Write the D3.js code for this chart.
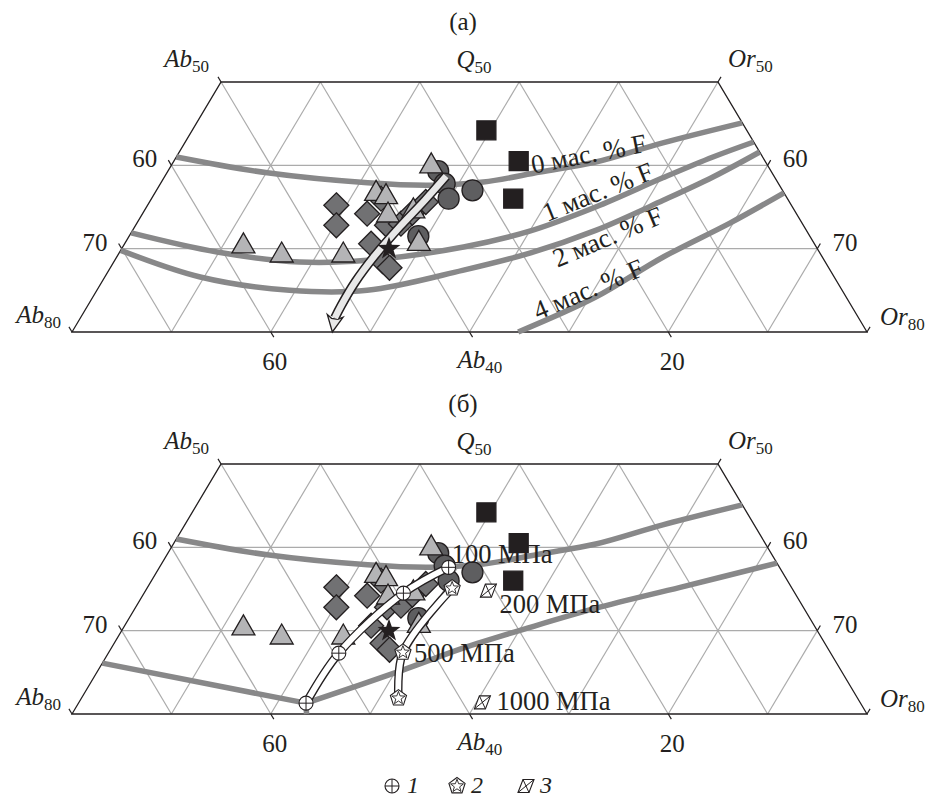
<!DOCTYPE html>
<html><head><meta charset="utf-8">
<script src="https://cdn.jsdelivr.net/npm/d3@7"></script>
<style>
body{margin:0;background:#fff}
svg{display:block}
text{font-family:"Liberation Serif","Times New Roman",serif;fill:#231f20}
</style>
</head><body>
<svg id="c" width="926" height="800"></svg>
<script>
// ---------- DATA (ternary Q, Ab, Or) ----------
const panelTitles = ["(а)", "(б)"];
const gridQ = [30, 40];
const gridOr = [10, 20, 30, 40, 50, 60, 70];
const gridAb = [10, 20, 30, 40, 50, 60, 70];
const leftTicks = [50, 60, 70, 80];      // Ab on left edge
const leftTickLabels = [60, 70];
const rightTicks = [50, 60, 70, 80];     // Or on right edge
const rightTickLabels = [60, 70];
const bottomTicks = [60, 40, 20];        // Ab on bottom edge (Q = 20)
const cornerLabels = [["Ab", "50"], ["Q", "50"], ["Or", "50"], ["Ab", "80"], ["Or", "80"]];

const triangles = [[30.7,57.4,11.9],[29.6,54.1,16.3],[29.6,47.9,22.5],[31.0,39.6,29.4],[40.3,33.7,26.0],
                   [37.0,40.9,22.1],[36.6,40.1,23.3],[34.4,41.0,24.6],[34.9,38.2,26.9]];
const diamonds = [[35.2,45.8,19.0],[32.8,47.0,20.2],[34.2,43.2,22.6],[30.6,44.6,24.8],[32.8,41.9,25.3],
                  [28.5,44.5,27.0],[27.7,44.2,28.1],[36.0,40.9,23.1],[33.0,40.4,26.6],[34.3,38.6,27.1],[35.6,36.6,27.8]];
const circles = [[39.3,33.5,27.2],[37.8,33.6,28.6],[36.0,34.1,29.9],[37.0,31.2,31.8],[31.5,39.4,29.1]];
const squares = [[44.2,26.2,29.6],[40.5,24.8,34.7],[36.0,27.6,36.4]];
const stars = [[30.0,43.1,26.9]];

const curveF0 = [[41.0,59.0,0],[39.1,50.8,10.1],[37.9,41.3,20.8],[37.6,35.2,27.2],[38.0,29.6,32.4],
                 [39.2,23.3,37.5],[40.4,17.1,42.5],[42.7,9.2,48.1],[45.1,0,54.9]];
const curveF1 = [[31.9,68.1,0],[29.6,60.6,9.8],[28.4,52.9,18.7],[28.6,46.0,25.4],[30.2,35.5,34.3],
                 [32.1,27.9,40.0],[35.0,19.8,45.2],[38.5,11.3,50.2],[41.0,5.0,54.0],[42.8,0,57.2]];
const curveF2 = [[29.8,70.2,0],[26.6,63.8,9.6],[25.0,55.6,19.4],[25.0,47.8,27.2],[27.4,37.0,35.6],
                 [29.5,29.1,41.4],[32.2,21.2,46.6],[35.8,12.6,51.6],[38.6,6.2,55.2],[41.6,0,58.4]];
const curveF4 = [[20.0,35.1,44.9],[24.2,25.2,50.6],[29.0,16.0,55.0],[33.1,7.2,59.7],[36.7,0,63.3]];
const fLabels = ["0 мас. % F", "1 мас. % F", "2 мас. % F", "4 мас. % F"];
const fLabelAnchors = [[39.0,24.1,36.9],[33.2,25.6,41.2],[27.7,27.3,45.0],[21.4,32.4,46.2]];
const fLabelAngles = [-11, -22, -23, -23];

const arrowA = [[38.7,33.0,28.3],[35.8,36.6,27.6],[32.7,40.6,26.7],[29.2,44.9,25.9],[26.0,48.5,25.5],
                [23.2,51.3,25.5],[21.7,52.7,25.6]];
const arrowTip = [20.0,53.8,26.2];

const cotB_left = [[26.1,73.9,0],[21.3,55.8,22.9]];
const cotB_stub = [[21.3,55.8,22.9],[20.0,56.4,23.6]];
const cotB_right = [[21.3,55.8,22.9],[25.3,44.0,30.7],[27.9,36.7,35.4],[30.4,28.7,40.9],
                    [32.7,20.9,46.4],[35.2,11.2,53.6],[38.1,0,61.9]];
const pathP1 = [[37.6,33.3,29.1],[34.5,39.4,26.1],[27.3,49.5,23.2],[21.3,55.8,22.9]]; // 100,200,500,1000 MPa
const pathP2 = [[35.1,34.2,30.7],[27.4,43.0,29.6],[21.9,46.2,31.9]];                 // 200,500,1000 MPa
const pointsP3 = [[34.8,30.7,34.5],[21.4,38.0,40.6]];                                // 200,1000 MPa
const pressureLabels = ["100 МПа", "200 МПа", "500 МПа", "1000 МПа"];
const legendLabels = ["1", "2", "3"];

// ---------- LAYOUT ----------
const svg = d3.select("#c");
const ink = "#231f20";
const x = d3.scaleLinear().domain([10, 90]).range([72, 867]);
const yQ = d3.scaleLinear().domain([20, 50]).range([332, 82]);
const panelDy = [0, 382];

function proj(p, dy) {
  const s = p[0] + p[1] + p[2];
  const q = p[0] * 100 / s, or = p[2] * 100 / s;
  return [x(or + q / 2), yQ(q) + dy];
}
const toPath = pts => "M" + pts.map(p => p[0].toFixed(2) + "," + p[1].toFixed(2)).join("L") + "Z";
function starPts(R, r, n) { const a = []; for (let i = 0; i < 2 * n; i++) { const t = -Math.PI / 2 + i * Math.PI / n; const rr = i % 2 ? r : R; a.push([rr * Math.cos(t), rr * Math.sin(t)]); } return a; }
function polyPts(R, n) { const a = []; for (let i = 0; i < n; i++) { const t = -Math.PI / 2 + i * 2 * Math.PI / n; a.push([R * Math.cos(t), R * Math.sin(t)]); } return a; }

const triPath = toPath([[0, -10], [11.5, 10], [-11.5, 10]]);
const diaPath = toPath([[0, -12.5], [12.5, 0], [0, 12.5], [-12.5, 0]]);
const sqPath = toPath([[-9.5, -9.5], [9.5, -9.5], [9.5, 9.5], [-9.5, 9.5]]);
const starPath = toPath(starPts(12, 4.8, 5));

function oplus(g, c) {
  const m = g.append("g").attr("transform", `translate(${c[0]},${c[1]})`);
  m.append("circle").attr("r", 7).attr("fill", "#fff").attr("stroke", ink).attr("stroke-width", 1.1);
  m.append("path").attr("d", "M-7,0H7M0,-7V7").attr("stroke", ink).attr("stroke-width", 1);
}
function pentStar(g, c) {
  const m = g.append("g").attr("transform", `translate(${c[0]},${c[1]})`);
  m.append("path").attr("d", toPath(polyPts(8.5, 5))).attr("fill", "#fff").attr("stroke", ink).attr("stroke-width", 1.1);
  m.append("path").attr("d", toPath(starPts(6.8, 2.8, 5))).attr("fill", "#fff").attr("stroke", ink).attr("stroke-width", 0.9);
}
function boxX(g, c) {
  const m = g.append("g").attr("transform", `translate(${c[0]},${c[1]})`);
  const pts = [[-3, -6.5], [8, -6.5], [3, 6.5], [-8, 6.5]];
  m.append("path").attr("d", toPath(pts)).attr("fill", "#fff").attr("stroke", ink).attr("stroke-width", 1.1);
  m.append("path").attr("d", "M-3,-6.5L3,6.5M8,-6.5L-8,6.5").attr("stroke", ink).attr("stroke-width", 1);
}

function drawPanel(idx) {
  const dy = panelDy[idx];
  const P = p => proj(p, dy);
  const g = svg.append("g");

  // title
  g.append("text").attr("x", 463).attr("y", 30 + dy).attr("text-anchor", "middle")
    .attr("font-size", 25).text(panelTitles[idx]);

  // grid
  const lines = [];
  gridQ.forEach(k => lines.push([[k, 100 - k, 0], [k, 0, 100 - k]]));
  gridOr.forEach(k => lines.push([k <= 50 ? [50, 50 - k, k] : [100 - k, 0, k], [20, 80 - k, k]]));
  gridAb.forEach(k => lines.push([k <= 50 ? [50, k, 50 - k] : [100 - k, k, 0], [20, k, 80 - k]]));
  g.append("g").selectAll("line").data(lines).join("line")
    .attr("x1", d => P(d[0])[0]).attr("y1", d => P(d[0])[1])
    .attr("x2", d => P(d[1])[0]).attr("y2", d => P(d[1])[1])
    .attr("stroke", "#ababab").attr("stroke-width", 1.2);

  // frame
  g.append("path").attr("d", toPath([[50, 50, 0], [50, 0, 50], [20, 0, 80], [20, 80, 0]].map(P)))
    .attr("fill", "none").attr("stroke", ink).attr("stroke-width", 1.3);

  // tick directions
  const a0 = P([50, 40, 10]), a1 = P([20, 40, 40]);
  let dAb = [a1[0] - a0[0], a1[1] - a0[1]]; let L = Math.hypot(...dAb); dAb = [dAb[0] / L, dAb[1] / L];
  const o0 = P([50, 40, 10]), o1 = P([20, 70, 10]);
  let dOr = [o1[0] - o0[0], o1[1] - o0[1]]; L = Math.hypot(...dOr); dOr = [dOr[0] / L, dOr[1] / L];
  const tl = 6;
  const tickG = g.append("g").attr("stroke", ink).attr("stroke-width", 1.2);
  const leftEnds = {}, rightEnds = {}, botEnds = {};
  leftTicks.forEach(v => { const e = P([100 - v, v, 0]); const t = [e[0] - tl * dAb[0], e[1] - tl * dAb[1]]; leftEnds[v] = t;
    tickG.append("line").attr("x1", e[0]).attr("y1", e[1]).attr("x2", t[0]).attr("y2", t[1]); });
  rightTicks.forEach(v => { const e = P([100 - v, 0, v]); const t = [e[0] - tl * dOr[0], e[1] - tl * dOr[1]]; rightEnds[v] = t;
    tickG.append("line").attr("x1", e[0]).attr("y1", e[1]).attr("x2", t[0]).attr("y2", t[1]); });
  bottomTicks.forEach(v => { const e = P([20, v, 80 - v]); const t = [e[0] + tl * dAb[0], e[1] + tl * dAb[1]]; botEnds[v] = t;
    tickG.append("line").attr("x1", e[0]).attr("y1", e[1]).attr("x2", t[0]).attr("y2", t[1]); });

  const fs = 25;
  leftTickLabels.forEach(v => { const t = leftEnds[v];
    g.append("text").attr("x", t[0] - 11).attr("y", t[1] + 7).attr("text-anchor", "end").attr("font-size", fs).text(v); });
  rightTickLabels.forEach(v => { const t = rightEnds[v];
    g.append("text").attr("x", t[0] + 12).attr("y", t[1] + 7).attr("text-anchor", "start").attr("font-size", fs).text(v); });
  bottomTicks.forEach(v => { const t = botEnds[v];
    if (v === 40) {
      const tx = g.append("text").attr("x", t[0] - 15).attr("y", t[1] + 31).attr("font-size", fs);
      tx.append("tspan").attr("font-style", "italic").text("Ab");
      tx.append("tspan").attr("font-size", 17).attr("dy", 5).text("40");
    } else {
      g.append("text").attr("x", t[0] + 1).attr("y", t[1] + 33).attr("text-anchor", "middle").attr("font-size", fs).text(v);
    }
  });

  // corner labels
  function sublabel(px, py, anchor, lab) {
    const tx = g.append("text").attr("x", px).attr("y", py).attr("text-anchor", anchor).attr("font-size", fs);
    tx.append("tspan").attr("font-style", "italic").text(lab[0]);
    tx.append("tspan").attr("font-size", 17).attr("dy", 5).text(lab[1]);
  }
  sublabel(leftEnds[50][0] - 9, leftEnds[50][1] - 10, "end", cornerLabels[0]);
  const qm = P([50, 25, 25]);
  sublabel(qm[0] - 13, qm[1] - 14, "start", cornerLabels[1]);
  sublabel(rightEnds[50][0] + 7, rightEnds[50][1] - 10, "start", cornerLabels[2]);
  sublabel(leftEnds[80][0] - 8, leftEnds[80][1] - 4, "end", cornerLabels[3]);
  sublabel(rightEnds[80][0] + 10, rightEnds[80][1] - 2, "start", cornerLabels[4]);

  // curves
  const line = d3.line().x(d => P(d)[0]).y(d => P(d)[1]).curve(d3.curveCatmullRom.alpha(0.5));
  const lineLin = d3.line().x(d => P(d)[0]).y(d => P(d)[1]);
  const cg = g.append("g").attr("fill", "none").attr("stroke", "#888889").attr("stroke-width", 5.5);
  if (idx === 0) {
    [curveF0, curveF1, curveF2, curveF4].forEach(c => cg.append("path").attr("d", line(c)));
  } else {
    cg.append("path").attr("d", line(curveF0));
    cg.append("path").attr("d", lineLin(cotB_left));
    cg.append("path").attr("d", lineLin(cotB_stub));
    cg.append("path").attr("d", line(cotB_right));
  }

  // points
  const pg = g.append("g").attr("stroke", ink).attr("stroke-width", 1.3);
  pg.selectAll(".ci").data(circles).join("circle").attr("class", "ci")
    .attr("cx", d => P(d)[0]).attr("cy", d => P(d)[1]).attr("r", 10.5).attr("fill", "#5e5e60");
  pg.selectAll(".di").data(diamonds).join("path").attr("class", "di")
    .attr("transform", d => `translate(${P(d)})`).attr("d", diaPath).attr("fill", "#717173");
  pg.selectAll(".tr").data(triangles).join("path").attr("class", "tr")
    .attr("transform", d => `translate(${P(d)})`).attr("d", triPath).attr("fill", "#b4b4b6");
  pg.selectAll(".sq").data(squares).join("path").attr("class", "sq")
    .attr("transform", d => `translate(${P(d)})`).attr("d", sqPath).attr("fill", ink);

  const lfs = 26.5;
  if (idx === 0) {
    // arrow
    const ag = g.append("g");
    ag.append("path").attr("d", line(arrowA)).attr("fill", "none").attr("stroke", ink).attr("stroke-width", 9.5);
    const B = P(arrowA[arrowA.length - 1]), T = P(arrowTip);
    let d = [T[0] - B[0], T[1] - B[1]]; const l = Math.hypot(...d); d = [d[0] / l, d[1] / l];
    const n = [-d[1], d[0]];
    const hb = [B[0] - d[0] * 2, B[1] - d[1] * 2];
    const head = [T, [hb[0] + n[0] * 8, hb[1] + n[1] * 8], [hb[0] + n[0] * 3.2 + d[0] * 3, hb[1] + n[1] * 3.2 + d[1] * 3],
                  [hb[0] - n[0] * 3.2 + d[0] * 3, hb[1] - n[1] * 3.2 + d[1] * 3], [hb[0] - n[0] * 8, hb[1] - n[1] * 8]];
    ag.append("path").attr("d", toPath(head)).attr("fill", "#e8e8e8").attr("stroke", ink).attr("stroke-width", 1.3).attr("stroke-linejoin", "miter");
    ag.append("path").attr("d", line(arrowA)).attr("fill", "none").attr("stroke", "#e8e8e8").attr("stroke-width", 6.5);
    // F labels
    fLabels.forEach((t, i) => { const p = P(fLabelAnchors[i]);
      g.append("text").attr("transform", `translate(${p[0]},${p[1]}) rotate(${fLabelAngles[i]})`).attr("font-size", lfs).text(t); });
  } else {
    const bg = g.append("g").attr("fill", "none");
    [pathP1, pathP2].forEach(pp => {
      bg.append("path").attr("d", line(pp)).attr("stroke", ink).attr("stroke-width", 8.5);
      bg.append("path").attr("d", line(pp)).attr("stroke", "#fff").attr("stroke-width", 5.8);
    });
    pathP1.forEach(p => oplus(g, P(p)));
    pathP2.forEach(p => pentStar(g, P(p)));
    pointsP3.forEach(p => boxX(g, P(p)));
    const lp = [[P(pathP1[0]), 3, -4], [P(pointsP3[0]), 11, 22], [P(pathP2[1]), 11, 10], [P(pointsP3[1]), 14, 8]];
    pressureLabels.forEach((t, i) => {
      g.append("text").attr("x", lp[i][0][0] + lp[i][1]).attr("y", lp[i][0][1] + lp[i][2]).attr("font-size", lfs).text(t);
    });
  }
  // star on top
  g.selectAll(".st").data(stars).join("path").attr("class", "st")
    .attr("transform", d => `translate(${P(d)})`).attr("d", starPath).attr("fill", ink);
}

drawPanel(0);
drawPanel(1);

// legend
const lg = svg.append("g");
const ly = 786;
oplus(lg, [392, ly]);
pentStar(lg, [457, ly]);
boxX(lg, [526, ly]);
[[407, 0], [471, 1], [540, 2]].forEach(([lx, i]) => {
  lg.append("text").attr("x", lx).attr("y", ly + 7).attr("font-size", 24).attr("font-style", "italic").text(legendLabels[i]);
});
</script>
</body></html>
